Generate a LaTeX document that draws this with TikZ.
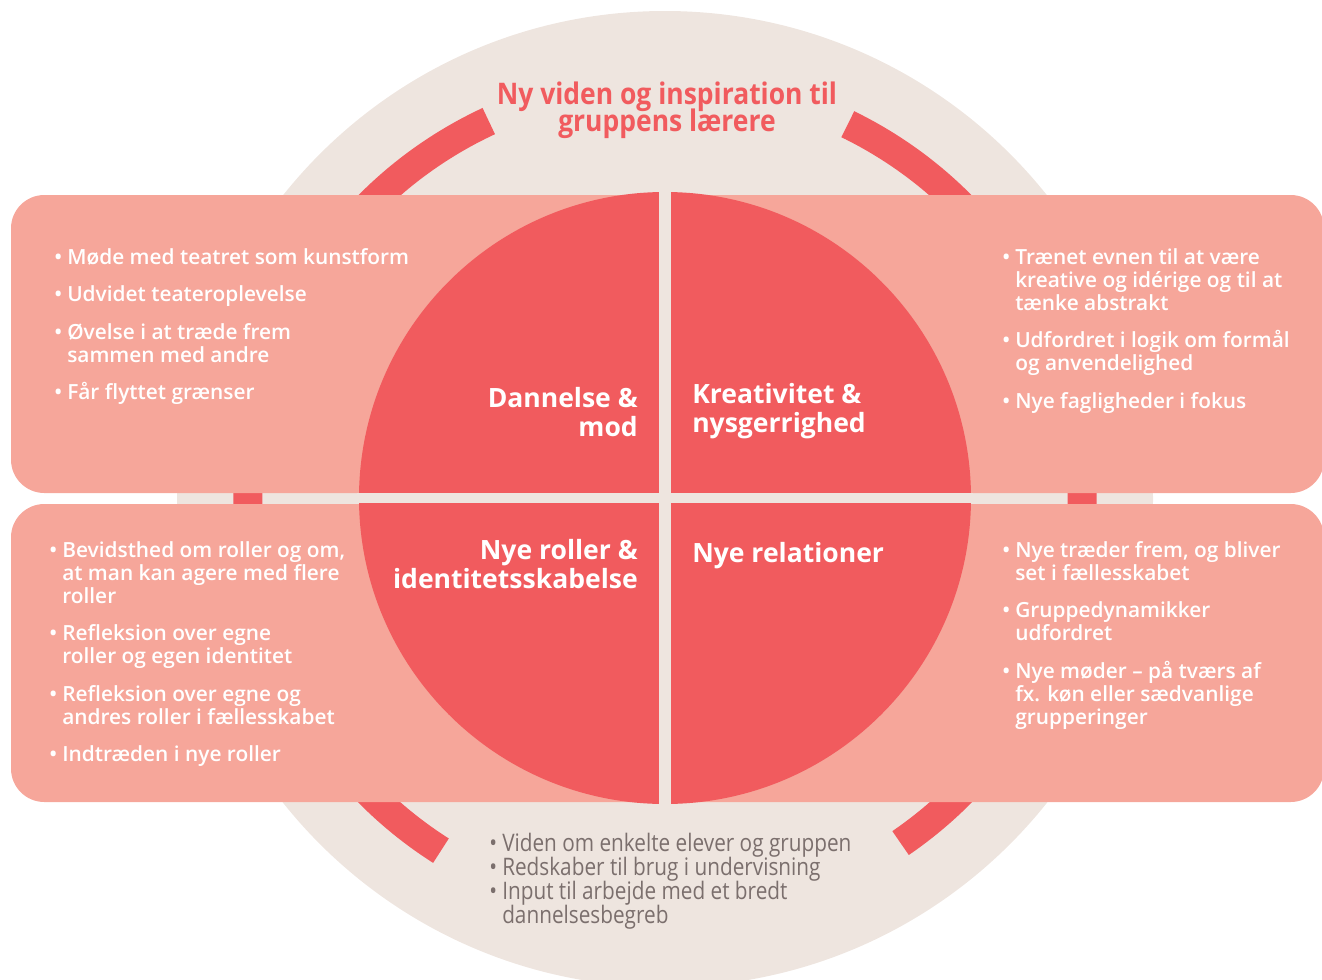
\documentclass[tikz,border=0pt]{standalone}
\usepackage{fontspec}
\setmainfont{Open Sans}
\newfontfamily\semifont{Open Sans Semibold}
\newfontfamily\condfont[FakeStretch=0.86]{Open Sans}
\newfontfamily\titlefont[FakeStretch=0.89]{Open Sans}
\definecolor{beige}{HTML}{EEE5DF}
\definecolor{ringred}{HTML}{F15B5E}
\definecolor{salmon}{HTML}{F6A69A}
\definecolor{greytext}{HTML}{7B6F6D}
\newcommand{\bul}{\llap{\textbullet\hspace{3.75pt}}}
\setlength{\lineskiplimit}{-100pt}

\begin{document}
\begin{tikzpicture}[x=0.75pt, y=-0.75pt,
    band/.style={fill=salmon, rounded corners=25pt},
    ring/.style={draw=ringred, line width=21.75pt},
    gapbar/.style={fill=beige},
    items/.style={
        anchor=north west, inner sep=0pt, align=left, text=white,
        font=\semifont\fontsize{15.65}{17.25}\selectfont
    },
    headl/.style={
        anchor=north east, inner sep=0pt, align=right, text=white,
        font=\bfseries\fontsize{19.9}{21.75}\selectfont
    },
    headr/.style={headl, anchor=north west, align=left},
    title/.style={
        anchor=north, inner sep=0pt, align=center, text=ringred,
        font=\titlefont\bfseries\fontsize{22.3}{20.3}\selectfont
    },
    notes/.style={
        anchor=north west, inner sep=0pt, align=left, text=greytext,
        font=\condfont\fontsize{18.1}{18}\selectfont
    }
]
\useasboundingbox (0,0) rectangle (1322,979);
\clip (0,0) rectangle (1322,979);

% --- Background circle and ring ---
\coordinate (c) at (665,499);
\coordinate (m) at (665,498);
\fill[beige] (c) circle[radius=488];
\draw[ring] (c) ++(-64:417) arc[start angle=-64, end angle=55.6, radius=417];
\draw[ring] (c) ++(-115:417) arc[start angle=-115, end angle=-237.5, radius=417];

% --- Bands ---
\fill[band] (11,195) rectangle (1324,493);
\fill[band] (11,504) rectangle (1324,802);

% --- Quadrant circle ---
\fill[ringred] (m) circle[radius=306];
\fill[gapbar] (659,190) rectangle (671,806);
\fill[gapbar] (357,493) rectangle (973,503);

% --- Title ---
\node[title] (title) at (667,74) {\rule{0pt}{1em}Ny viden og inspiration til\\gruppens lærere};

% --- Quadrant heads ---
\node[headl] (dannelse) at (638,381) {\rule{0pt}{1em}Dannelse \&\\mod};
\node[headr] (kreativ) at (692,377) {\rule{0pt}{1em}Kreativitet \&\\nysgerrighed};
\node[headl] (roller) at (638,533) {\rule{0pt}{1em}Nye roller \&\\identitetsskabelse};
\node[headr] (relation) at (692,536) {\rule{0pt}{1em}Nye relationer};

% --- Bullet lists ---
\node[items] (dannelseitems) at (67,243) {\rule{0pt}{1em}\bul Møde med teatret som kunstform\\[10.9pt]
    \bul Udvidet teateroplevelse\\[10.9pt]
    \bul Øvelse i at træde frem\\sammen med andre\\[10.9pt]
    \bul Får flyttet grænser};
\node[items] (kreativitems) at (1015,243) {\rule{0pt}{1em}\bul Trænet evnen til at være\\kreative og idérige og til at\\tænke abstrakt\\[10.9pt]
    \bul Udfordret i logik om formål\\og anvendelighed\\[10.9pt]
    \bul Nye fagligheder i fokus};
\node[items] (rolleritems) at (62,536) {\rule{0pt}{1em}\bul Bevidsthed om roller og om,\\at man kan agere med flere\\roller\\[10.9pt]
    \bul Refleksion over egne\\roller og egen identitet\\[10.9pt]
    \bul Refleksion over egne og\\andres roller i fællesskabet\\[10.9pt]
    \bul Indtræden i nye roller};
\node[items] (relationitems) at (1015,536) {\rule{0pt}{1em}\bul Nye træder frem, og bliver\\set i fællesskabet\\[10.9pt]
    \bul Gruppedynamikker\\udfordret\\[10.9pt]
    \bul Nye møder – på tværs af\\fx. køn eller sædvanlige\\grupperinger};

% --- Teacher notes ---
\node[notes] (teacher) at (502,827) {\rule{0pt}{1em}\bul Viden om enkelte elever og gruppen\\
    \bul Redskaber til brug i undervisning\\
    \bul Input til arbejde med et bredt\\dannelsesbegreb};

\end{tikzpicture}
\end{document}
